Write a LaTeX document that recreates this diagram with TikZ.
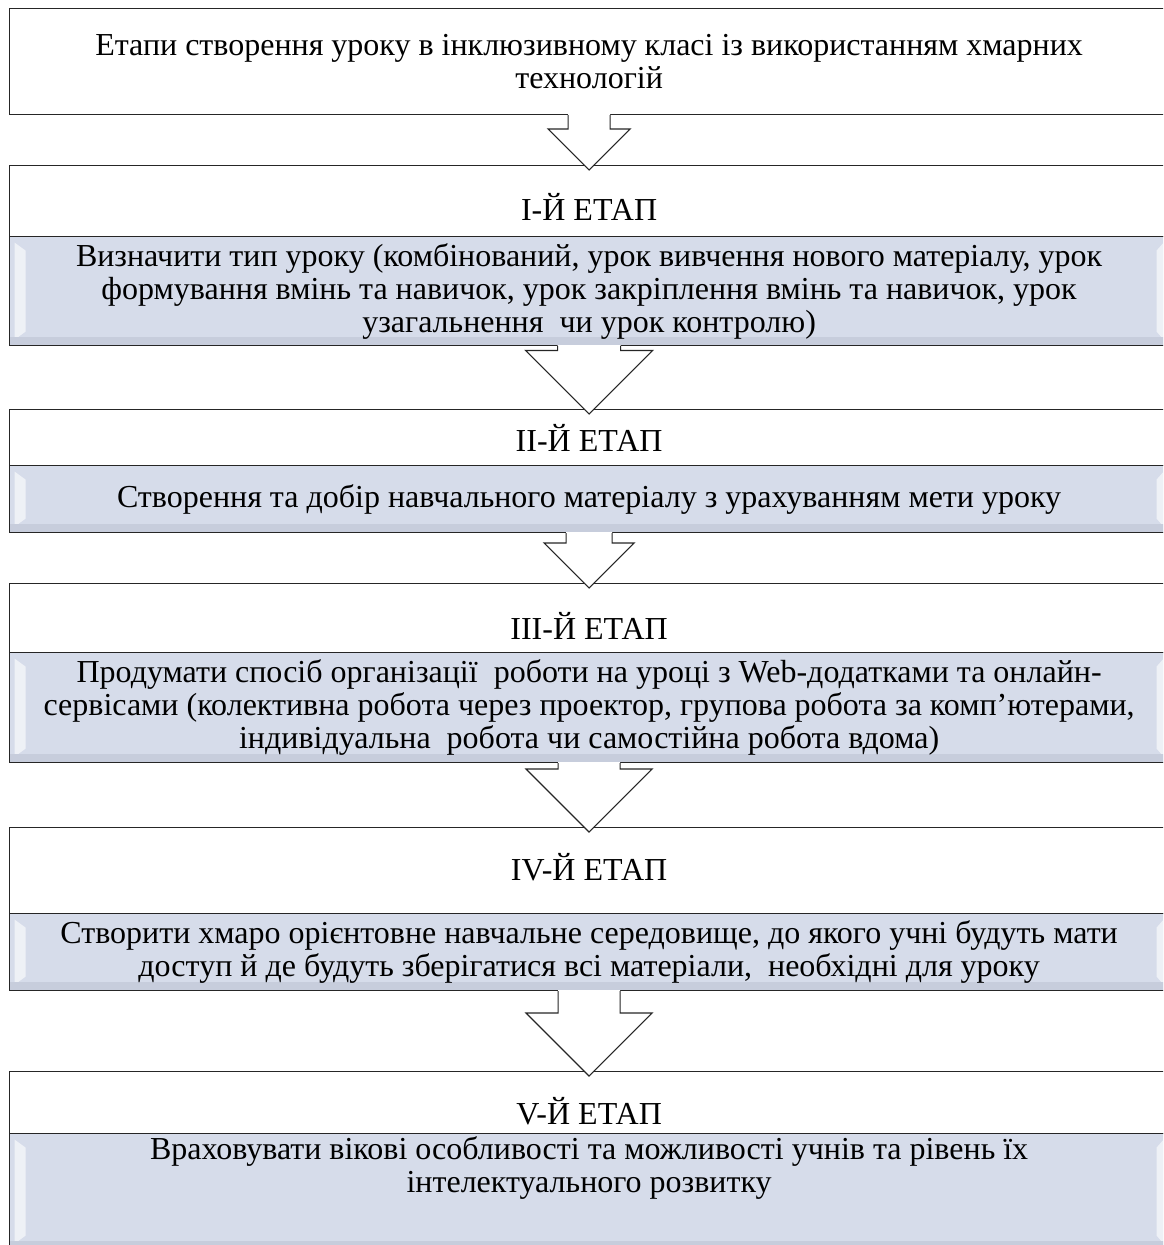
\documentclass[tikz,border=0pt]{standalone}
\usepackage{fontspec}
\setmainfont{Liberation Serif}
\usetikzlibrary{calc}

\definecolor{bodyfill}{RGB}{214,220,234}
\definecolor{bodyedge}{RGB}{199,205,220}

\begin{document}
\begin{tikzpicture}[x=1pt, y=-1pt,
	box/.style={draw=black!85, line width=1.2pt, fill=white, anchor=north west,
		minimum width=1159pt, inner sep=0pt, align=center,
		font=\fontsize{32}{33}\selectfont},
	stagebody/.style={box, fill=bodyfill, path picture={
		\fill[white, opacity=.6] ([shift={(5,6)}]path picture bounding box.north west)
			-- ([shift={(16,14)}]path picture bounding box.north west)
			-- ([shift={(16,-14)}]path picture bounding box.south west)
			-- ([shift={(5,-6)}]path picture bounding box.south west) -- cycle;
		\fill[white, opacity=.6] ([shift={(-5,6)}]path picture bounding box.north east)
			-- ([shift={(-12,14)}]path picture bounding box.north east)
			-- ([shift={(-12,-14)}]path picture bounding box.south east)
			-- ([shift={(-5,-6)}]path picture bounding box.south east) -- cycle;
		\fill[bodyedge] ([shift={(0,-9)}]path picture bounding box.south west)
			rectangle (path picture bounding box.south east);
	}},
	stagearrow/.style={draw=black!85, line width=1.2pt, line join=miter}]

% Block arrow from one box down to the next
\def\flowdown#1#2#3#4{
	\coordinate (tip) at ($(#2.north)+(0,5)$);
	\coordinate (sl) at ($(#1.south)+(-#3,0)$);
	\coordinate (sr) at ($(#1.south)+(#3,0)$);
	\coordinate (hl) at ($(tip)+(-#4,-#4)$);
	\coordinate (hr) at ($(tip)+(#4,-#4)$);
	\fill[white] ([yshift=1pt]sl) -- (sl |- hl) -- (hl) -- (tip) -- (hr) -- (sr |- hr) -- ([yshift=1pt]sr) -- cycle;
	\draw[stagearrow] (sl) -- (sl |- hl) -- (hl) -- (tip) -- (hr) -- (sr |- hr) -- (sr);
}

\useasboundingbox (0,0) rectangle (1163,1245);
\clip (0,0) rectangle (1163,1245);

% Title box
\node[box, minimum height=106pt] (t0) at (9,8)
	{Етапи створення уроку в інклюзивному класі із використанням хмарних\\технологій};

% Stages
\node[box, minimum height=71pt, text height=38pt] (h1) at (9,165) {І-Й ЕТАП};
\node[stagebody, minimum height=109pt] (d1) at (9,236)
	{Визначити тип уроку (комбінований, урок вивчення нового матеріалу, урок\\
	формування вмінь та навичок, урок закріплення вмінь та навичок, урок\\
	узагальнення~ чи урок контролю)};

\node[box, minimum height=56pt] (h2) at (9,409) {ІІ-Й ЕТАП};
\node[stagebody, minimum height=67pt] (d2) at (9,465)
	{Створення та добір навчального матеріалу з урахуванням мети уроку};

\node[box, minimum height=69pt, text height=42pt] (h3) at (9,583) {ІІІ-Й ЕТАП};
\node[stagebody, minimum height=110pt] (d3) at (9,652)
	{Продумати спосіб організації~ роботи на уроці з Web-додатками та онлайн-\\
	сервісами (колективна робота через проектор, групова робота за комп’ютерами,\\
	індивідуальна~ робота чи самостійна робота вдома)};

\node[box, minimum height=86pt, text depth=8pt] (h4) at (9,827) {ІV-Й ЕТАП};
\node[stagebody, minimum height=77pt] (d4) at (9,913)
	{Створити хмаро орієнтовне навчальне середовище, до якого учні будуть мати\\
	доступ й де будуть зберігатися всі матеріали,~ необхідні для уроку};

\node[box, minimum height=62pt, text height=44pt] (h5) at (9,1071) {V-Й ЕТАП};
\node[stagebody, minimum height=116pt, text depth=55pt] (d5) at (9,1133)
	{Враховувати вікові особливості та можливості учнів та рівень їх\\
	інтелектуального розвитку};

% Arrows between the boxes
\flowdown{t0}{h1}{21}{41}
\flowdown{d1}{h2}{31.5}{63.5}
\flowdown{d2}{h3}{23}{45}
\flowdown{d3}{h4}{31}{63}
\flowdown{d4}{h5}{31}{63}

\end{tikzpicture}
\end{document}
